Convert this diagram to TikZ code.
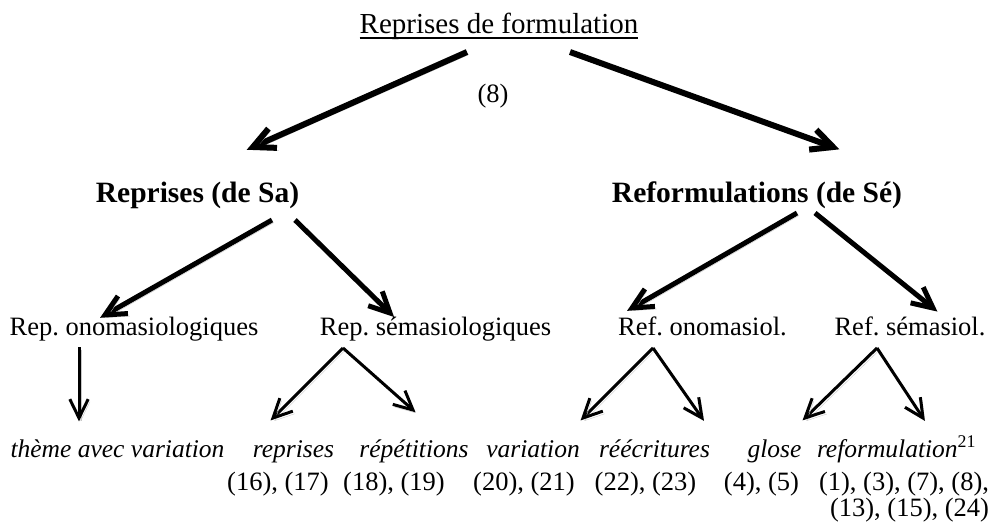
\documentclass[tikz,border=0pt]{standalone}
\usepackage{fontspec}
\setmainfont{Liberation Serif}
\usetikzlibrary{calc}
\frenchspacing
\tikzset{
  lbl/.style={inner sep=0pt, outer sep=0pt, anchor=base, font=\fontsize{26.5}{30}\selectfont},
  ttl/.style={lbl, font=\fontsize{29}{32}\selectfont},
  bld/.style={lbl, font=\fontsize{29.5}{32}\selectfont\bfseries},
  itl/.style={lbl, font=\fontsize{25.5}{30}\selectfont\itshape},
  shadowed/.style={preaction={draw=black!22, transform canvas={shift={(1.8pt,-2.6pt)}}}},
  bigarr/.style={line width=6pt, shadowed},
  midarr/.style={line width=5pt, shadowed},
  smallarr/.style={line width=3pt, shadowed}
}
% shaft plus V-shaped barb: #1 style, #2 start, #3 tip, #4 barb length
\newcommand\barbarrow[4]{%
  \draw[#1] (#2) -- (#3);
  \draw[#1, line join=miter] ($(#3)!#4!26:(#2)$) -- (#3) -- ($(#3)!#4!-26:(#2)$);
}
\begin{document}
\begin{tikzpicture}[x=1pt,y=-1pt]
\useasboundingbox (0,0) rectangle (993,522);
% labels
\node[ttl] (title) at (499,33) {Reprises de formulation};
\draw[line width=1.3pt] ([yshift=-5pt]title.base west) -- ([yshift=-5pt]title.base east);
\node[lbl] (ex8) at (493,102) {(8)};
\node[bld] (sa) at (197.5,202) {Reprises (de Sa)};
\node[bld] (se) at (757,202) {Reformulations (de Sé)};
\node[lbl] (ronom) at (134,335) {Rep. onomasiologiques};
\node[lbl] (rsem) at (435.5,335) {Rep. sémasiologiques};
\node[lbl] (fonom) at (702.5,335) {Ref. onomasiol.};
\node[lbl] (fsem) at (910,335) {Ref. sémasiol.};
\node[itl] (theme) at (117.5,457) {thème avec variation};
\node[itl] (repr) at (293.5,457) {reprises};
\node[itl] (repet) at (414,457) {répétitions};
\node[itl] (vari) at (533,457) {variation};
\node[itl] (reecr) at (654.5,457) {réécritures};
\node[itl] (glose) at (774.5,457) {glose};
\node[itl, anchor=base west] (reform) at (817,457) {reformulation\textsuperscript{\upshape 21}};
\node[lbl] (e1617) at (278,490) {(16), (17)};
\node[lbl] (e1819) at (394,490) {(18), (19)};
\node[lbl] (e2021) at (524,490) {(20), (21)};
\node[lbl] (e2223) at (645.5,490) {(22), (23)};
\node[lbl] (e45) at (761.5,490) {(4), (5)};
\node[lbl, anchor=base east] (e1378) at (989,490) {(1), (3), (7), (8),};
\node[lbl, anchor=base east] (e131524) at (989,516) {(13), (15), (24)};
% connector endpoints
\coordinate (t1) at (467,52);  \coordinate (t1e) at (253,147);
\coordinate (t2) at (570,52);  \coordinate (t2e) at (833,147);
\coordinate (s1) at (272,220); \coordinate (s1e) at (105,315);
\coordinate (s2) at (295,220); \coordinate (s2e) at (390,313);
\coordinate (f1) at (797,213); \coordinate (f1e) at (632,308);
\coordinate (f2) at (815,213); \coordinate (f2e) at (933,308);
\coordinate (o1) at (79,347);  \coordinate (o1e) at (79,418);
\coordinate (rs) at (343,348); \coordinate (rs1) at (273,418); \coordinate (rs2) at (413,410);
\coordinate (fo) at (653,348); \coordinate (fo1) at (583,418); \coordinate (fo2) at (702,418);
\coordinate (fs) at (877,348); \coordinate (fs1) at (805,418); \coordinate (fs2) at (923,418);
% connectors
\barbarrow{bigarr}{t1}{t1e}{24pt}
\barbarrow{bigarr}{t2}{t2e}{24pt}
\barbarrow{midarr}{s1}{s1e}{23pt}
\barbarrow{midarr}{s2}{s2e}{23pt}
\barbarrow{midarr}{f1}{f1e}{23pt}
\barbarrow{midarr}{f2}{f2e}{23pt}
\barbarrow{smallarr}{o1}{o1e}{21pt}
\barbarrow{smallarr}{rs}{rs1}{21pt}
\barbarrow{smallarr}{rs}{rs2}{21pt}
\barbarrow{smallarr}{fo}{fo1}{21pt}
\barbarrow{smallarr}{fo}{fo2}{21pt}
\barbarrow{smallarr}{fs}{fs1}{21pt}
\barbarrow{smallarr}{fs}{fs2}{21pt}
\end{tikzpicture}
\end{document}
